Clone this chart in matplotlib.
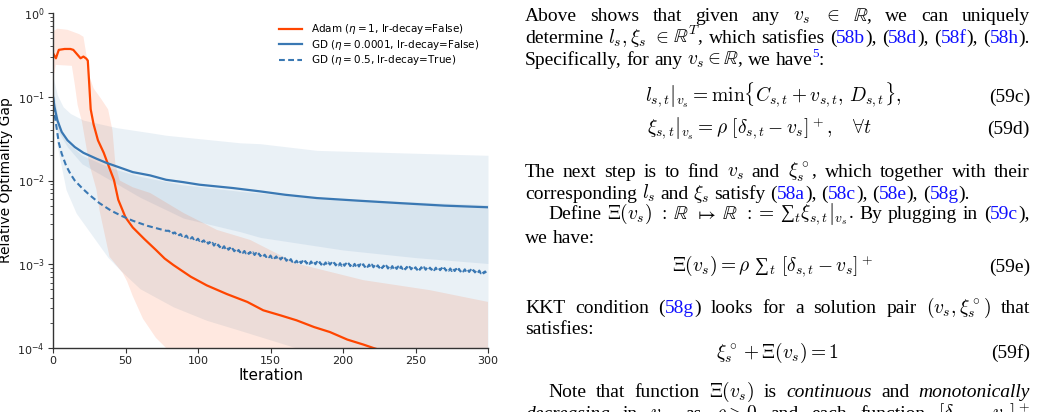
import numpy as np
import matplotlib
matplotlib.use("Agg")
import matplotlib.pyplot as plt
from matplotlib.transforms import IdentityTransform

# ---------------- data ----------------
adam_it = [0, 2, 4, 8, 12, 14, 17, 19, 21, 23, 24, 25, 26, 28, 31, 35, 38, 42, 45, 50,
           55, 63, 71, 77, 83, 95, 106, 120, 134, 145, 157, 168, 180, 191, 203, 214,
           221, 240, 260, 280, 300]
adam_mean = [0.331, 0.288, 0.363, 0.372, 0.372, 0.363, 0.316, 0.288, 0.302, 0.285,
             0.270, 0.141, 0.0708, 0.0468, 0.0302, 0.0214, 0.0155, 0.0102, 0.00589,
             0.00363, 0.00275, 0.00200, 0.00148, 0.00117, 0.00098, 0.00071, 0.00056,
             0.00044, 0.000355, 0.000282, 0.000245, 0.000214, 0.000178, 0.000155,
             0.000126, 0.00011, 0.0001, 7.9e-5, 6.3e-5, 5e-5, 4e-5]
adam_hi_it = [0, 3, 10, 18, 21, 23, 25, 28, 33, 38, 41, 43, 46, 55, 67, 90, 113, 136,
              168, 214, 260, 300]
adam_hi = [0.60, 0.65, 0.63, 0.56, 0.52, 0.32, 0.178, 0.126, 0.0955, 0.0708, 0.0398,
           0.0158, 0.0100, 0.0083, 0.0071, 0.0041, 0.00257, 0.00195, 0.00102,
           0.000646, 0.00049, 0.000355]
adam_lo_it = [0, 2, 13, 15, 17, 20, 25, 30, 32, 39, 48, 51, 55, 62, 71, 78, 100, 150,
              200, 300]
adam_lo = [0.16, 0.240, 0.234, 0.141, 0.0794, 0.0501, 0.0158, 0.00776, 0.00447,
           0.00123, 0.00079, 0.00063, 0.000417, 0.000224, 0.000132, 0.0001, 4e-5,
           1e-5, 3.2e-6, 1e-6]

gd_it = [0, 1, 3, 6, 10, 15, 21, 30, 37, 45, 55, 67, 78, 90, 101, 124, 143, 160, 182,
         210, 239, 270, 300]
gd_mean = [0.1, 0.0759, 0.0525, 0.038, 0.0302, 0.0251, 0.0214, 0.0182, 0.0162, 0.0145,
           0.0126, 0.0115, 0.0102, 0.00955, 0.00891, 0.00813, 0.00741, 0.00676,
           0.00617, 0.00575, 0.00537, 0.00501, 0.00479]
gd_hi_it = [0, 3, 7, 12, 21, 44, 67, 78, 129, 143, 182, 240, 300]
gd_hi = [0.174, 0.105, 0.0759, 0.0631, 0.0525, 0.0427, 0.0372, 0.0347, 0.0282, 0.0275,
         0.0229, 0.0214, 0.0200]
gd_lo_it = [0, 3, 10, 20, 40, 60, 90, 129, 143, 200, 250, 300]
gd_lo = [0.1, 0.0398, 0.0251, 0.0158, 0.0100, 0.0063, 0.00355, 0.00245, 0.00209,
         0.00148, 0.0012, 0.00102]

# GD with lr-decay: smooth part up to iteration 78, then every iteration (zig-zag)
gdd_it = [0, 1, 3, 4, 6, 9, 12, 15, 20, 25, 32, 40, 47, 55, 65, 78]
gdd_mean = [0.1, 0.0631, 0.0372, 0.0282, 0.0209, 0.0151, 0.012, 0.01, 0.00813,
            0.00676, 0.00537, 0.00437, 0.0038, 0.00331, 0.00288, 0.00251]
gdd_zig_start = 80
gdd_zig_e3 = [  # values x 1e-3 for iterations 80 ... 300
    2.51, 2.38, 2.46, 2.33, 2.40, 2.28, 2.35, 2.22, 2.29, 2.17,
    2.24, 2.12, 2.20, 2.07, 2.15, 2.03, 2.11, 1.99, 2.07, 1.94,
    2.02, 1.90, 1.98, 1.85, 1.93, 1.81, 1.89, 1.76, 1.84, 1.72,
    1.80, 1.67, 1.75, 1.63, 1.71, 1.60, 1.68, 1.56, 1.64, 1.52,
    1.60, 1.49, 1.57, 1.45, 1.53, 1.43, 1.50, 1.41, 1.48, 1.39,
    1.46, 1.37, 1.44, 1.35, 1.42, 1.33, 1.40, 1.31, 1.38, 1.29,
    1.36, 1.27, 1.34, 1.25, 1.31, 1.24, 1.30, 1.22, 1.28, 1.21,
    1.27, 1.19, 1.25, 1.18, 1.24, 1.15, 1.21, 1.14, 1.20, 1.12,
    1.18, 1.10, 1.16, 1.09, 1.15, 1.07, 1.12, 1.05, 1.10, 1.03,
    1.10, 1.03, 1.09, 1.02, 1.09, 1.02, 1.08, 1.01, 1.08, 1.01,
    1.07, 1.00, 1.07, 1.00, 1.06, 0.99, 1.06, 0.99, 1.05, 0.98,
    1.05, 0.99, 1.04, 0.98, 1.04, 0.97, 1.03, 0.97, 1.03, 0.96,
    1.03, 0.96, 1.02, 0.96, 1.02, 0.95, 1.01, 0.95, 1.01, 0.94,
    1.01, 0.94, 1.00, 0.94, 1.00, 0.93, 0.99, 0.93, 0.99, 0.92,
    0.99, 0.92, 0.98, 0.92, 0.97, 0.91, 0.97, 0.90, 0.96, 0.90,
    0.96, 0.89, 0.95, 0.89, 0.95, 0.88, 0.94, 0.88, 0.94, 0.87,
    0.94, 0.88, 0.93, 0.87, 0.93, 0.87, 0.93, 0.87, 0.92, 0.87,
    0.92, 0.86, 0.92, 0.86, 0.92, 0.86, 0.92, 0.86, 0.91, 0.86,
    0.91, 0.86, 0.91, 0.85, 0.91, 0.85, 0.90, 0.85, 0.90, 0.84,
    0.90, 0.84, 0.89, 0.84, 0.89, 0.83, 0.89, 0.83, 0.88, 0.82,
    0.88, 0.82, 0.87, 0.82, 0.87, 0.81, 0.86, 0.81, 0.86, 0.80,
    0.85, 0.80, 0.84, 0.79, 0.84, 0.78, 0.83, 0.78, 0.82, 0.77,
    0.81]
gdd_hi_it = [0, 5, 10, 20, 40, 60, 89, 130, 182, 240, 300]
gdd_hi = [0.126, 0.0398, 0.0282, 0.0200, 0.0141, 0.0112, 0.0089, 0.0074, 0.00617,
          0.00562, 0.00513]
gdd_lo_it = [0, 3, 9, 16, 28, 38, 47, 60, 83, 106, 129, 168, 220, 300]
gdd_lo = [0.089, 0.0251, 0.00776, 0.00407, 0.00209, 0.0012, 0.00083, 0.00051,
          0.00031, 0.000214, 0.000162, 0.0001, 7.1e-5, 5e-5]

labels = [r"Adam ($\eta = 1$, lr-decay=False)",
          r"GD ($\eta = 0.0001$, lr-decay=False)",
          r"GD ($\eta = 0.5$, lr-decay=True)"]
x_ticks = [0, 50, 100, 150, 200, 250, 300]

ORANGE = "#ff4500"
BLUE = "#3a78b3"

W, H = 1038, 412
fig = plt.figure(figsize=(W / 100, H / 100), dpi=100)
ax = fig.add_axes([53 / W, 1 - 348 / H, (488 - 53) / W, (348 - 13) / H])

xa = np.arange(0, 301)


def band(it_hi, hi, it_lo, lo):
    u = 10 ** np.interp(xa, it_hi, np.log10(hi))
    l = 10 ** np.interp(xa, it_lo, np.log10(lo))
    return u, l


u, l = band(gd_hi_it, gd_hi, gd_lo_it, gd_lo)
ax.fill_between(xa, l, u, color="#4682b4", alpha=0.11, lw=0)
u, l = band(gdd_hi_it, gdd_hi, gdd_lo_it, gdd_lo)
ax.fill_between(xa, l, u, color="#4682b4", alpha=0.11, lw=0)
u, l = band(adam_hi_it, adam_hi, adam_lo_it, adam_lo)
ax.fill_between(xa, l, u, color=ORANGE, alpha=0.12, lw=0)

gdd_x = list(gdd_it) + list(range(gdd_zig_start, gdd_zig_start + len(gdd_zig_e3)))
gdd_y = list(gdd_mean) + [v * 1e-3 for v in gdd_zig_e3]

ax.plot(adam_it, adam_mean, color=ORANGE, lw=1.6, label=labels[0])
ax.plot(gd_it, gd_mean, color=BLUE, lw=1.6, label=labels[1])
ax.plot(gdd_x, gdd_y, color=BLUE, lw=1.5, ls=(0, (2.8, 1.6)), label=labels[2])

ax.set_yscale("log")
ax.set_ylim(1e-4, 1)
ax.set_xlim(0, 300)
ax.set_xticks(x_ticks)
for s in ("top", "right"):
    ax.spines[s].set_visible(False)
for s in ("left", "bottom"):
    ax.spines[s].set_color("#333333")
    ax.spines[s].set_linewidth(1.0)
ax.tick_params(axis="both", which="major", labelsize=8, length=3.5, color="#333333",
               labelcolor="#222222", pad=2.5)
ax.tick_params(axis="y", which="minor", length=2, color="#333333")
ax.set_xlabel("Iteration", fontsize=11, labelpad=1)
ax.set_ylabel("Relative Optimality Gap", fontsize=10)
ax.yaxis.set_label_coords(-0.092, 0.5)
ax.legend(loc="upper left", bbox_to_anchor=(0.506, 0.991), frameon=False, fontsize=7.5,
          handlelength=2.2, handletextpad=0.8, labelspacing=0.15, borderaxespad=0.2)

# ---------------- right-hand text column ----------------
renderer = fig.canvas.get_renderer()
FS = 14
SERIF = "Liberation Serif"
LINK = "#1010ff"
X0, X1 = 525, 1030
SPACE = 0.25 * FS * 100 / 72


def split_tokens(s):
    toks, cur, inmath = [], "", False
    for ch in s:
        if ch == "$":
            inmath = not inmath
        if ch == " " and not inmath:
            if cur:
                toks.append(cur)
            cur = ""
        else:
            cur += ch
    if cur:
        toks.append(cur)
    return toks


def make_token(tok):
    italic = False
    if tok.startswith("*"):
        italic = True
        tok = tok.replace("*", "")
    objs, w = [], 0.0
    for i, seg in enumerate(tok.split("§")):
        if not seg:
            continue
        fs, dy = FS, 0.0
        if seg.startswith("^"):
            seg = seg[1:]
            fs, dy = FS * 0.68, FS * 0.55
        t = fig.text(0, 0, seg, transform=IdentityTransform(), fontsize=fs,
                     family=SERIF, math_fontfamily="cm",
                     color=LINK if i % 2 else "black",
                     style="italic" if italic else "normal", va="baseline", ha="left")
        bw = t.get_window_extent(renderer).width
        objs.append((t, bw, dy))
        w += bw
    return objs, w


def place_line(s, y, x0=X0, justify=True):
    made = [make_token(t) for t in split_tokens(s)]
    widths = [m[1] for m in made]
    if justify and len(made) > 1:
        gap = (X1 - x0 - sum(widths)) / (len(made) - 1)
    else:
        gap = SPACE
    x = x0
    for objs, w in made:
        xx = x
        for t, bw, dy in objs:
            t.set_position((xx, H - y + dy))
            xx += bw
        x += w + gap


def equation(s, num, y, x, ha="left"):
    fig.text(x, H - y, s, transform=IdentityTransform(), fontsize=FS, family=SERIF,
             math_fontfamily="cm", va="baseline", ha=ha)
    fig.text(X1, H - y, num, transform=IdentityTransform(), fontsize=FS, family=SERIF,
             va="baseline", ha="right")


IND = 548
place_line(r"Above shows that given any $v_s$ $\in$ $\mathbb{R}$, we can uniquely", 21)
place_line(r"determine $l_s,\xi_s$ $\in$ $\mathbb{R}^T$, which satisfies (§58b§), (§58d§), (§58f§), (§58h§).", 43)
place_line(r"Specifically, for any $v_s\in\mathbb{R}$, we have§^5§:", 65, justify=False)
equation(r"$\left. l_{s,t}\right|_{v_s} = \min\{C_{s,t} + v_{s,t},\, D_{s,t}\},$", "(59c)", 102, 645)
equation(r"$\left. \xi_{s,t}\right|_{v_s} = \rho\ [\delta_{s,t} - v_s]^+,\quad \forall t$", "(59d)", 134, 647)
place_line(r"The next step is to find $v_s$ and $\xi_s^\circ$, which together with their", 177)
place_line(r"corresponding $l_s$ and $\xi_s$ satisfy (§58a§), (§58c§), (§58e§), (§58g§).", 199, justify=False)
place_line(r"Define $\Xi(v_s)$ $:$ $\mathbb{R}$ $\mapsto$ $\mathbb{R}$ $:=$ ∑$_t\left.\xi_{s,t}\right|_{v_s}$. By plugging in (§59c§),", 219, x0=IND)
place_line(r"we have:", 243, justify=False)
equation(r"$\Xi(v_s) = \rho\ $∑$_t\ [\delta_{s,t} - v_s]^+$", "(59e)", 272, 773, ha="center")
place_line(r"KKT condition (§58g§) looks for a solution pair $(v_s,\xi_s^\circ)$ that", 313)
place_line(r"satisfies:", 334, justify=False)
equation(r"$\xi_s^\circ + \Xi(v_s) = 1$", "(59f)", 358, 777, ha="center")
place_line(r"Note that function $\Xi(v_s)$ is *continuous* and *monotonically*", 397, x0=IND)
place_line(r"*decreasing* in $v_s$, as $\rho>0$ and each function $[\delta_{s,t}-v_s]^+$", 419)

fig.savefig("out.png", dpi=100)
